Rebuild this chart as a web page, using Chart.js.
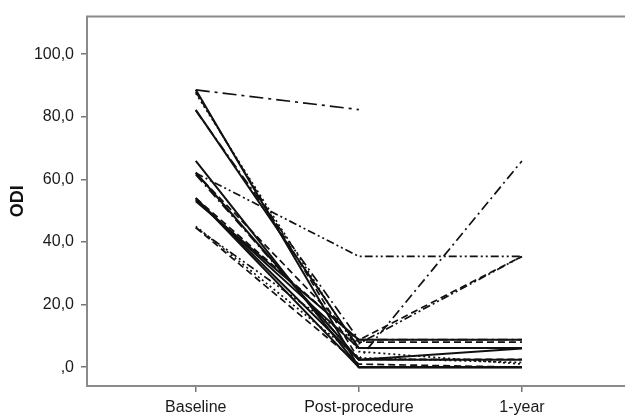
<!DOCTYPE html>
<html>
<head>
<meta charset="utf-8">
<script src="https://cdn.jsdelivr.net/npm/chart.js@4"></script>
<style>
  html, body { margin: 0; padding: 0; background: #fff; }
  #wrap { width: 625px; height: 417px; }
</style>
</head>
<body>
<div id="wrap"><canvas id="odiChart"></canvas></div>
<script>
// time points on the x axis
const timepoints = ['Baseline', 'Post-procedure', '1-year'];
const yTicks = [0, 20, 40, 60, 80, 100];

// ODI per patient, one entry per patient in each array
const baseline      = [88.6, 88.6, 88.0, 87.5, 82.2, 82.0, 65.9, 62.2, 62.0, 61.5, 62.0, 54.0, 54.0, 53.5, 53.0, 54.0, 44.6, 44.6, 45.0];
const postProcedure = [82.3,  0.0,  2.5,  5.0,  6.1,  8.8,  0.0,  2.4, 35.4,  2.5,  8.0,  0.0,  2.4,  6.1,  8.8,  8.7,  7.5,  1.0,  3.0];
const oneYear       = [null,  0.0,  2.5,  1.0,  6.1,  8.8,  0.0,  2.4, 35.4, 65.9,  8.0,  0.0,  6.0,  6.1,  8.8, 35.4, 35.4,  0.0,  1.5];

const lineStyles = ['longdashdot', 'solid', 'dash', 'dot', 'solid', 'dashdot', 'solid', 'solid', 'dashdotdot',
                    'dashdot', 'dash', 'solid', 'solid', 'solid', 'solid', 'dash', 'dashdotdot', 'dash', 'dot'];
const dashes = {
    solid: [],
    dash: [7, 4],
    dot: [2, 3],
    dashdot: [10, 4, 2, 4],
    longdashdot: [14, 5, 3, 5],
    dashdotdot: [8, 3, 2, 3, 2, 3]
};

const datasets = baseline.map((b, i) => ({
    label: 'Patient ' + (i + 1),
    data: [b, postProcedure[i], oneYear[i]].map((v, k) => ({ x: k, y: v })),
    borderColor: '#111',
    borderWidth: lineStyles[i] === 'solid' ? 2 : 1.7,
    borderDash: dashes[lineStyles[i]],
    pointRadius: 0,
    tension: 0,
    fill: false,
    spanGaps: false
}));

// top edge of the plot frame
const frameTop = {
    id: 'frameTop',
    afterDraw(chart) {
        const { ctx, chartArea } = chart;
        ctx.save();
        ctx.strokeStyle = '#8a8a8a';
        ctx.lineWidth = 2;
        ctx.beginPath();
        ctx.moveTo(chartArea.left - 1, chartArea.top);
        ctx.lineTo(chartArea.right, chartArea.top);
        ctx.stroke();
        ctx.restore();
    }
};

const ctx = document.getElementById('odiChart').getContext('2d');
new Chart(ctx, {
    type: 'line',
    data: { datasets: datasets },
    plugins: [frameTop],
    options: {
        responsive: true,
        maintainAspectRatio: false,
        animation: false,
        layout: { padding: { top: 14, right: 0, left: 0, bottom: 0 } },
        scales: {
            x: {
                type: 'linear',
                min: -0.667,
                max: 2.632,
                afterBuildTicks: (scale) => { scale.ticks = timepoints.map((t, i) => ({ value: i })); },
                afterFit: (scale) => { scale.height = 31; },
                grid: { display: true, drawOnChartArea: false, drawTicks: true, tickLength: 6, color: '#777', lineWidth: 1.5 },
                border: { display: true, color: '#8a8a8a', width: 2 },
                ticks: {
                    padding: 6,
                    color: '#1a1a1a',
                    font: { family: 'Liberation Sans, Arial, sans-serif', size: 16 },
                    callback: (v) => timepoints[v]
                }
            },
            y: {
                min: -6,
                max: 112,
                afterBuildTicks: (scale) => { scale.ticks = yTicks.map(v => ({ value: v })); },
                afterFit: (scale) => { scale.width = 87; },
                grid: { display: true, drawOnChartArea: false, drawTicks: true, tickLength: 6, color: '#777', lineWidth: 1.5 },
                border: { display: true, color: '#8a8a8a', width: 2 },
                title: {
                    display: true,
                    text: 'ODI',
                    color: '#111',
                    padding: { top: 7, bottom: 0 },
                    font: { family: 'Liberation Sans, Arial, sans-serif', size: 18, weight: 'bold' }
                },
                ticks: {
                    padding: 7,
                    color: '#1a1a1a',
                    font: { family: 'Liberation Sans, Arial, sans-serif', size: 16 },
                    callback: (v) => v === 0 ? ',0' : v.toFixed(1).replace('.', ',')
                }
            }
        },
        plugins: {
            legend: { display: false },
            tooltip: { enabled: false }
        }
    }
});
</script>
</body>
</html>
